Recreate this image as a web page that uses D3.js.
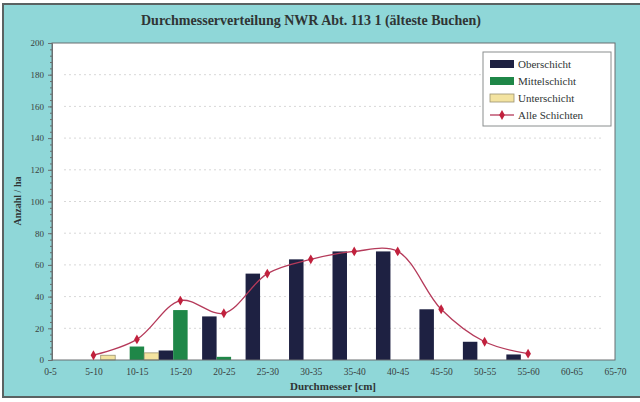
<!DOCTYPE html>
<html>
<head>
<meta charset="utf-8">
<script src="https://cdnjs.cloudflare.com/ajax/libs/d3/7.8.5/d3.min.js"></script>
<style>
  body { margin: 0; background: #fff; }
  svg { display: block; font-family: "Liberation Serif", "DejaVu Serif", serif; }
</style>
</head>
<body>
<div id="chart"></div>
<script>
// data (Anzahl / ha per diameter class)
var categories = ["0-5","5-10","10-15","15-20","20-25","25-30","30-35","35-40","40-45","45-50","50-55","55-60","60-65","65-70"];
var oberschicht = [0, 0, 0, 6, 27.5, 54.5, 63.5, 68.5, 68.5, 32, 11.5, 3.5, 0, 0];
var mittelschicht = [0, 0, 8.5, 31.5, 2, 0, 0, 0, 0, 0, 0, 0, 0, 0];
var unterschicht = [0, 3, 4.5, 0, 0, 0, 0, 0, 0, 0, 0, 0, 0, 0];
var alleSchichten = [null, 3, 13, 37.5, 29.5, 54.5, 63.5, 68.5, 68.5, 32, 11.5, 4, null, null];
var seriesNames = ["Oberschicht", "Mittelschicht", "Unterschicht"];
var seriesColors = ["#1e2142", "#1f8748", "#f3e3a0"];
var yTicks = [0, 20, 40, 60, 80, 100, 120, 140, 160, 180, 200];

var width = 640, height = 402;
var plot = {left: 52, right: 615, top: 43, bottom: 360};

var svg = d3.select("#chart").append("svg")
	.attr("width", width)
	.attr("height", height);

// outer frame
svg.append("rect")
	.attr("x", 3).attr("y", 4)
	.attr("width", 640).attr("height", 393)
	.attr("fill", "#8fd7d8")
	.attr("stroke", "#5a6262")
	.attr("stroke-width", 2);

// plot area
svg.append("rect")
	.attr("x", plot.left).attr("y", plot.top)
	.attr("width", plot.right - plot.left).attr("height", plot.bottom - plot.top)
	.attr("fill", "#fff");

var x = d3.scalePoint()
	.domain(categories)
	.range([50, 615]);

var y = d3.scaleLinear()
	.domain([0, 200])
	.range([plot.bottom, plot.top]);

var sub = d3.scaleBand()
	.domain(seriesNames)
	.range([-x.step() / 2, x.step() / 2])
	.padding(0);

// faint dotted gridlines
svg.append("g")
	.selectAll("line")
	.data(yTicks.filter(function(d) { return d > 0 && d < 200; }))
	.enter()
	.append("line")
	.attr("x1", plot.left + 12).attr("x2", plot.right - 12)
	.attr("y1", function(d) { return y(d); })
	.attr("y2", function(d) { return y(d); })
	.attr("stroke", "#d8d8d8")
	.attr("stroke-width", 1)
	.attr("stroke-dasharray", "2,3");

// bars
var table = seriesNames.map(function(name, i) {
	var vals = [oberschicht, mittelschicht, unterschicht][i];
	return {name: name, color: seriesColors[i], values: vals};
});

var groups = svg.append("g")
	.selectAll(".series")
	.data(table)
	.enter()
	.append("g")
	.attr("class", "series");

groups.selectAll("rect")
	.data(function(s) {
		return s.values.map(function(v, j) { return {name: s.name, color: s.color, cat: categories[j], value: v}; })
			.filter(function(d) { return d.value > 0; });
	})
	.enter()
	.append("rect")
	.attr("x", function(d) { return x(d.cat) + sub(d.name); })
	.attr("width", sub.bandwidth())
	.attr("y", function(d) { return y(d.value); })
	.attr("height", function(d) { return y(0) - y(d.value); })
	.attr("fill", function(d) { return d.color; })
	.attr("stroke", function(d) { return d.name == "Unterschicht" ? "#9a9270" : "none"; })
	.attr("stroke-width", 0.8);

// plot border
svg.append("rect")
	.attr("x", plot.left).attr("y", plot.top)
	.attr("width", plot.right - plot.left).attr("height", plot.bottom - plot.top)
	.attr("fill", "none")
	.attr("stroke", "#6b6f70")
	.attr("stroke-width", 1);

// y axis with minor ticks
var yAxis = svg.append("g")
	.attr("transform", "translate(" + plot.left + ",0)")
	.call(d3.axisLeft(y).tickValues(d3.range(0, 201, 4)).tickSize(2).tickFormat(""));
yAxis.select(".domain").attr("stroke", "#6b6f70");
yAxis.selectAll(".tick line").attr("stroke", "#6b6f70");

var yMajor = svg.append("g")
	.attr("transform", "translate(" + plot.left + ",0)")
	.call(d3.axisLeft(y).tickValues(yTicks).tickSize(4).tickPadding(4));
yMajor.select(".domain").remove();
yMajor.selectAll(".tick line").attr("stroke", "#6b6f70");
yMajor.selectAll("text")
	.attr("font-family", "Liberation Serif")
	.attr("font-size", 9)
	.attr("fill", "#3a3f40");

// x axis
var xAxis = svg.append("g")
	.attr("transform", "translate(0," + plot.bottom + ")")
	.call(d3.axisBottom(x).tickSize(0).tickPadding(8));
xAxis.select(".domain").remove();
xAxis.selectAll("text")
	.attr("font-family", "Liberation Serif")
	.attr("font-size", 9.5)
	.attr("fill", "#3a3f40");

// Alle Schichten line
var line = d3.line()
	.defined(function(d) { return d.value != null; })
	.x(function(d) { return x(d.cat); })
	.y(function(d) { return y(d.value); })
	.curve(d3.curveCatmullRom.alpha(0.5));

var lineData = alleSchichten.map(function(v, j) { return {cat: categories[j], value: v}; });
var defined = lineData.filter(function(d) { return d.value != null; });

svg.append("path")
	.datum(defined)
	.attr("d", line)
	.attr("fill", "none")
	.attr("stroke", "#b53a5a")
	.attr("stroke-width", 1.3);

svg.append("g")
	.selectAll("path")
	.data(defined)
	.enter()
	.append("path")
	.attr("transform", function(d) { return "translate(" + x(d.cat) + "," + y(d.value) + ")"; })
	.attr("d", d3.symbol().type(d3.symbolDiamond).size(28))
	.attr("fill", "#c1213d");

// title
svg.append("text")
	.attr("x", 311).attr("y", 25)
	.attr("text-anchor", "middle")
	.attr("font-weight", "bold")
	.attr("font-size", 14)
	.attr("fill", "#2f3535")
	.text("Durchmesserverteilung NWR Abt. 113 1 (älteste Buchen)");

// axis titles
svg.append("text")
	.attr("transform", "translate(21,201) rotate(-90)")
	.attr("text-anchor", "middle")
	.attr("font-weight", "bold")
	.attr("font-size", 10)
	.attr("fill", "#2f3535")
	.text("Anzahl / ha");

svg.append("text")
	.attr("x", 333).attr("y", 390)
	.attr("text-anchor", "middle")
	.attr("font-weight", "bold")
	.attr("font-size", 11)
	.attr("fill", "#2f3535")
	.text("Durchmesser [cm]");

// legend
var legend = svg.append("g").attr("transform", "translate(483,52)");
legend.append("rect")
	.attr("width", 128).attr("height", 74)
	.attr("fill", "#fff")
	.attr("stroke", "#8a8e8e")
	.attr("stroke-width", 1);

var items = seriesNames.concat(["Alle Schichten"]);
var entries = legend.selectAll(".entry")
	.data(items)
	.enter()
	.append("g")
	.attr("class", "entry")
	.attr("transform", function(d, i) { return "translate(0," + (12 + i * 17) + ")"; });

entries.filter(function(d, i) { return i < 3; })
	.append("rect")
	.attr("x", 7).attr("y", -4)
	.attr("width", 24).attr("height", 8)
	.attr("fill", function(d, i) { return seriesColors[i]; })
	.attr("stroke", function(d, i) { return i == 2 ? "#9a9270" : "none"; })
	.attr("stroke-width", 0.8);

var lastEntry = entries.filter(function(d, i) { return i == 3; });
lastEntry.append("line")
	.attr("x1", 7).attr("x2", 31)
	.attr("stroke", "#b53a5a")
	.attr("stroke-width", 1.3);
lastEntry.append("path")
	.attr("transform", "translate(19,0)")
	.attr("d", d3.symbol().type(d3.symbolDiamond).size(28))
	.attr("fill", "#c1213d");

entries.append("text")
	.attr("x", 35).attr("y", 4)
	.attr("font-size", 11)
	.attr("fill", "#2f3535")
	.text(function(d) { return d; });
</script>
</body>
</html>
